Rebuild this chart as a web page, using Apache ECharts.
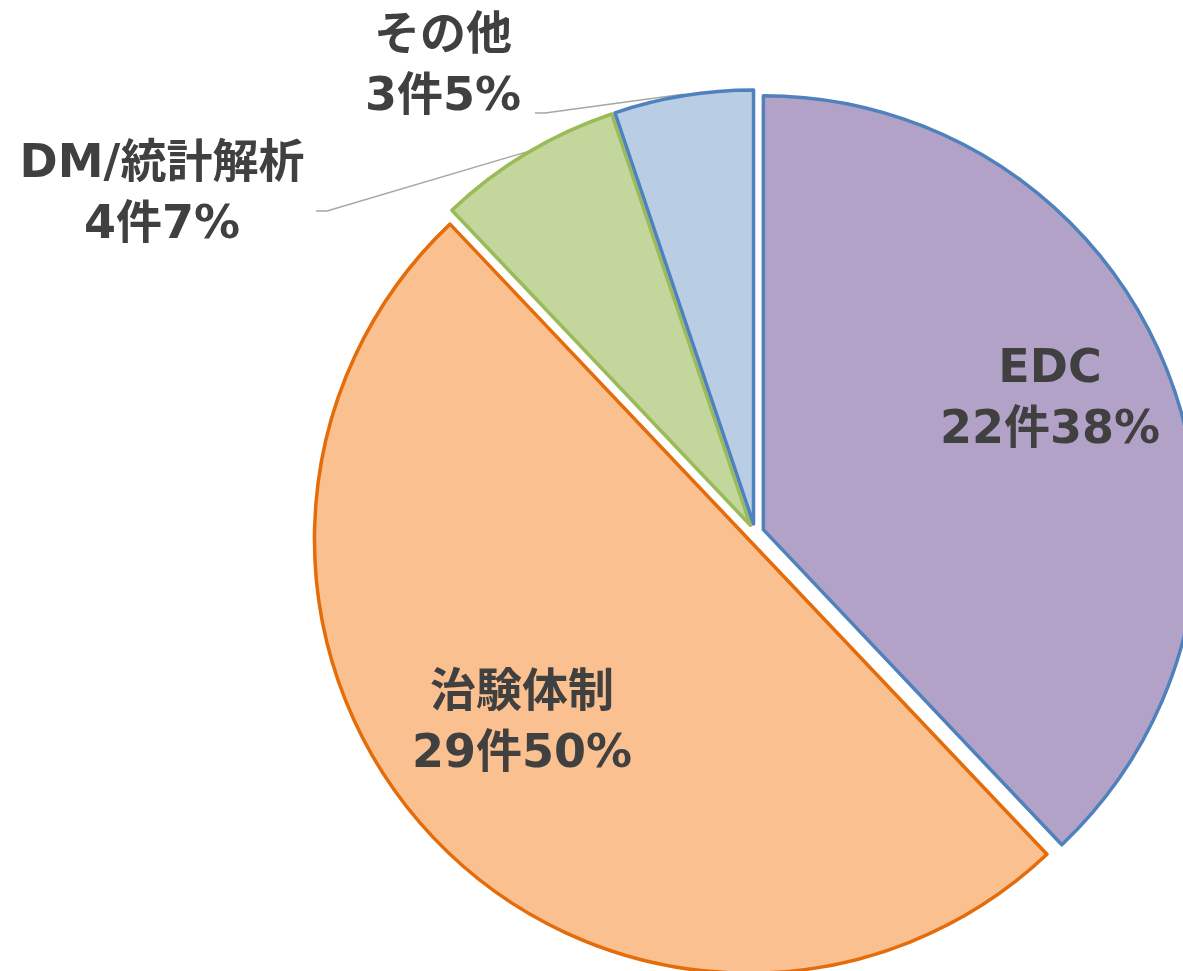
<!DOCTYPE html>
<html><head><meta charset="utf-8">
<script src="https://cdn.jsdelivr.net/npm/echarts@6/dist/echarts.min.js"></script>
<style>html,body{margin:0;padding:0;background:#fff}#c{width:1183px;height:971px}</style>
</head><body><div id="c"></div>
<script>
// ---- data ----
const categories = ['EDC', '治験体制', 'DM/統計解析', 'その他'];
const counts = [22, 29, 4, 3];
const unitLabel = '件';

// ---- styles / layout ----
const fills = ['#B3A2C7', '#FAC090', '#C3D69B', '#B9CDE5'];
const borders = ['#4F81BD', '#E46C0A', '#9BBB59', '#4F81BD'];
const labelOutside = [false, false, true, true];
const CENTER = [755, 533];
const R = 434;
const OFFSET = 9;
const labelPos = [[1050, 401], [522, 725], [162, 196], [443, 68]];
const leaderTail = [null, null, [[327, 211], [316, 211]], [[545, 113], [535, 113]]];

const total = counts.reduce((a, b) => a + b, 0);
function arcPoint(i) {
  let before = 0;
  for (let k = 0; k < i; k++) before += counts[k];
  const a = (before + counts[i] / 2) / total * 2 * Math.PI;
  const dx = Math.sin(a), dy = -Math.cos(a);
  const rr = R + OFFSET + 1.5;
  return [CENTER[0] + dx * rr, CENTER[1] + dy * rr];
}

const chart = echarts.init(document.getElementById('c'), null, {renderer: 'canvas'});
const labelFont = '"DejaVu Sans","Noto Sans CJK JP",sans-serif';

const common = {
  type: 'pie',
  center: CENTER,
  radius: R,
  startAngle: 90,
  clockwise: true,
  avoidLabelOverlap: false,
  percentPrecision: 0,
  emphasis: {disabled: true}
};

chart.setOption({
  animation: false,
  backgroundColor: '#fff',
  series: [
    Object.assign({}, common, {
      name: 'slices',
      selectedMode: 'multiple',
      selectedOffset: OFFSET,
      label: {show: false},
      labelLine: {show: false},
      data: categories.map((n, i) => ({
        name: n,
        value: counts[i],
        selected: true,
        itemStyle: {color: fills[i], borderColor: borders[i], borderWidth: 3.5},
        select: {itemStyle: {color: fills[i], borderColor: borders[i], borderWidth: 3.5}}
      }))
    }),
    Object.assign({}, common, {
      name: 'labels',
      silent: true,
      selectedMode: false,
      itemStyle: {color: 'rgba(0,0,0,0)', borderWidth: 0},
      label: {
        formatter: '{b}\n{c}' + unitLabel + '{d}%',
        fontSize: 46,
        fontWeight: 'bold',
        color: '#404040',
        lineHeight: 61,
        fontFamily: labelFont,
        align: 'center'
      },
      labelLine: {lineStyle: {color: '#A6A6A6', width: 1.5}},
      labelLayout: function (p) {
        const i = p.dataIndex;
        const out = {x: labelPos[i][0], y: labelPos[i][1], align: 'center', verticalAlign: 'middle'};
        if (leaderTail[i]) {
          out.labelLinePoints = [arcPoint(i), leaderTail[i][0], leaderTail[i][1]];
        }
        return out;
      },
      data: categories.map((n, i) => ({
        name: n,
        value: counts[i],
        label: {position: labelOutside[i] ? 'outside' : 'inside'},
        labelLine: {show: labelOutside[i], length: 20, length2: 20}
      }))
    })
  ]
});
</script>
</body></html>
